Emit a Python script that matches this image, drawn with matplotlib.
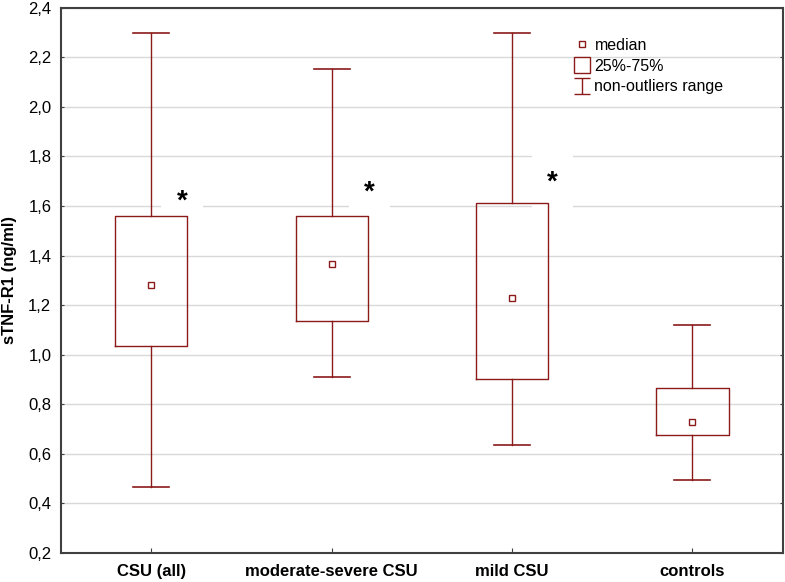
import numpy as np
import matplotlib
matplotlib.use("Agg")
from matplotlib import pyplot as plt
from matplotlib.path import Path
from matplotlib.lines import Line2D
from matplotlib.ticker import FuncFormatter
from matplotlib.transforms import offset_copy

plt.rcParams['font.family'] = ['Liberation Sans', 'DejaVu Sans']

# values (sTNF-R1, ng/ml)
groups = ["CSU (all)", "moderate-severe CSU", "mild CSU", "controls"]
medians = [1.282, 1.365, 1.228, 0.729]
q1 = [1.036, 1.138, 0.904, 0.676]
q3 = [1.561, 1.561, 1.614, 0.864]
whis_lo = [0.465, 0.912, 0.634, 0.493]
whis_hi = [2.297, 2.152, 2.297, 1.118]
star_y = [1.645, 1.682, 1.722]
star_dx = [0.17, 0.21, 0.225]

dark_red = "#8b1a1a"

stats = []
for i in range(len(groups)):
    stats.append({
        "med": medians[i], "mean": medians[i],
        "q1": q1[i], "q3": q3[i],
        "whislo": whis_lo[i], "whishi": whis_hi[i],
        "fliers": [], "label": groups[i],
    })

fig = plt.figure(figsize=(7.85, 5.82), dpi=100)
ax = fig.add_axes([0.0777, 0.0498, 0.9193, 0.937])

pos = np.arange(1, len(groups) + 1)
ax.bxp(stats, positions=pos, widths=0.4, showmeans=True, showfliers=False,
       boxprops=dict(color=dark_red, linewidth=1.0),
       whiskerprops=dict(color=dark_red, linewidth=1.0),
       capprops=dict(color=dark_red, linewidth=1.2),
       capwidths=0.2,
       medianprops=dict(visible=False),
       meanprops=dict(marker='s', markersize=4.5, markerfacecolor='white',
                      markeredgecolor=dark_red, markeredgewidth=1.0),
       zorder=4)

# asterisk glyph sits high in its box, so nudge it down a little
star_tr = offset_copy(ax.transData, fig=fig, x=0, y=-5, units='points')
for i, y in enumerate(star_y):
    ax.text(pos[i] + star_dx[i], y, "*", fontsize=20, fontweight='bold',
            ha='center', va='center', zorder=3, transform=star_tr,
            bbox=dict(facecolor='white', edgecolor='none', pad=11))

ax.set_xlim(0.5, len(groups) + 0.5)
ax.set_ylim(0.2, 2.4)
ax.set_yticks(np.arange(0.2, 2.41, 0.2))
ax.yaxis.set_major_formatter(FuncFormatter(lambda v, p: f"{v:.1f}".replace('.', ',')))
ax.set_xticks(pos)
ax.set_xticklabels(groups, fontsize=12, fontweight='bold')
ax.tick_params(axis='x', direction='in', length=3.5, pad=8, color='#404040')
ax.tick_params(axis='y', direction='in', length=2.5, labelsize=12, pad=7,
               color='#404040', right=True)
ax.yaxis.grid(True, color='#d9d9d9', linewidth=1.0)
ax.set_axisbelow(True)
for s in ax.spines.values():
    s.set_color('#404040')
    s.set_linewidth(1.5)

ax.set_ylabel("sTNF-R1 (ng/ml)", fontsize=12, fontweight='bold', labelpad=8)

# legend with custom handles
ibeam = Path([(-1, 1), (1, 1), (0, 1), (0, -1), (-1, -1), (1, -1)],
             [Path.MOVETO, Path.LINETO, Path.MOVETO, Path.LINETO, Path.MOVETO, Path.LINETO])
handles = [
    Line2D([], [], linestyle='none', marker='s', markersize=4.5,
           markerfacecolor='white', markeredgecolor=dark_red, markeredgewidth=1.0),
    Line2D([], [], linestyle='none', marker='s', markersize=11,
           markerfacecolor='white', markeredgecolor=dark_red, markeredgewidth=1.0),
    Line2D([], [], linestyle='none', marker=ibeam, markersize=12,
           markerfacecolor='none', markeredgecolor=dark_red, markeredgewidth=1.0),
]
ax.legend(handles, ["median", "25%-75%", "non-outliers range"], loc='upper left',
          bbox_to_anchor=(0.695, 0.965), frameon=False, fontsize=11.5,
          handlelength=1.0, handletextpad=0.3, labelspacing=0.35, borderpad=0.2)

plt.savefig("out.png", dpi=100, facecolor='white')
